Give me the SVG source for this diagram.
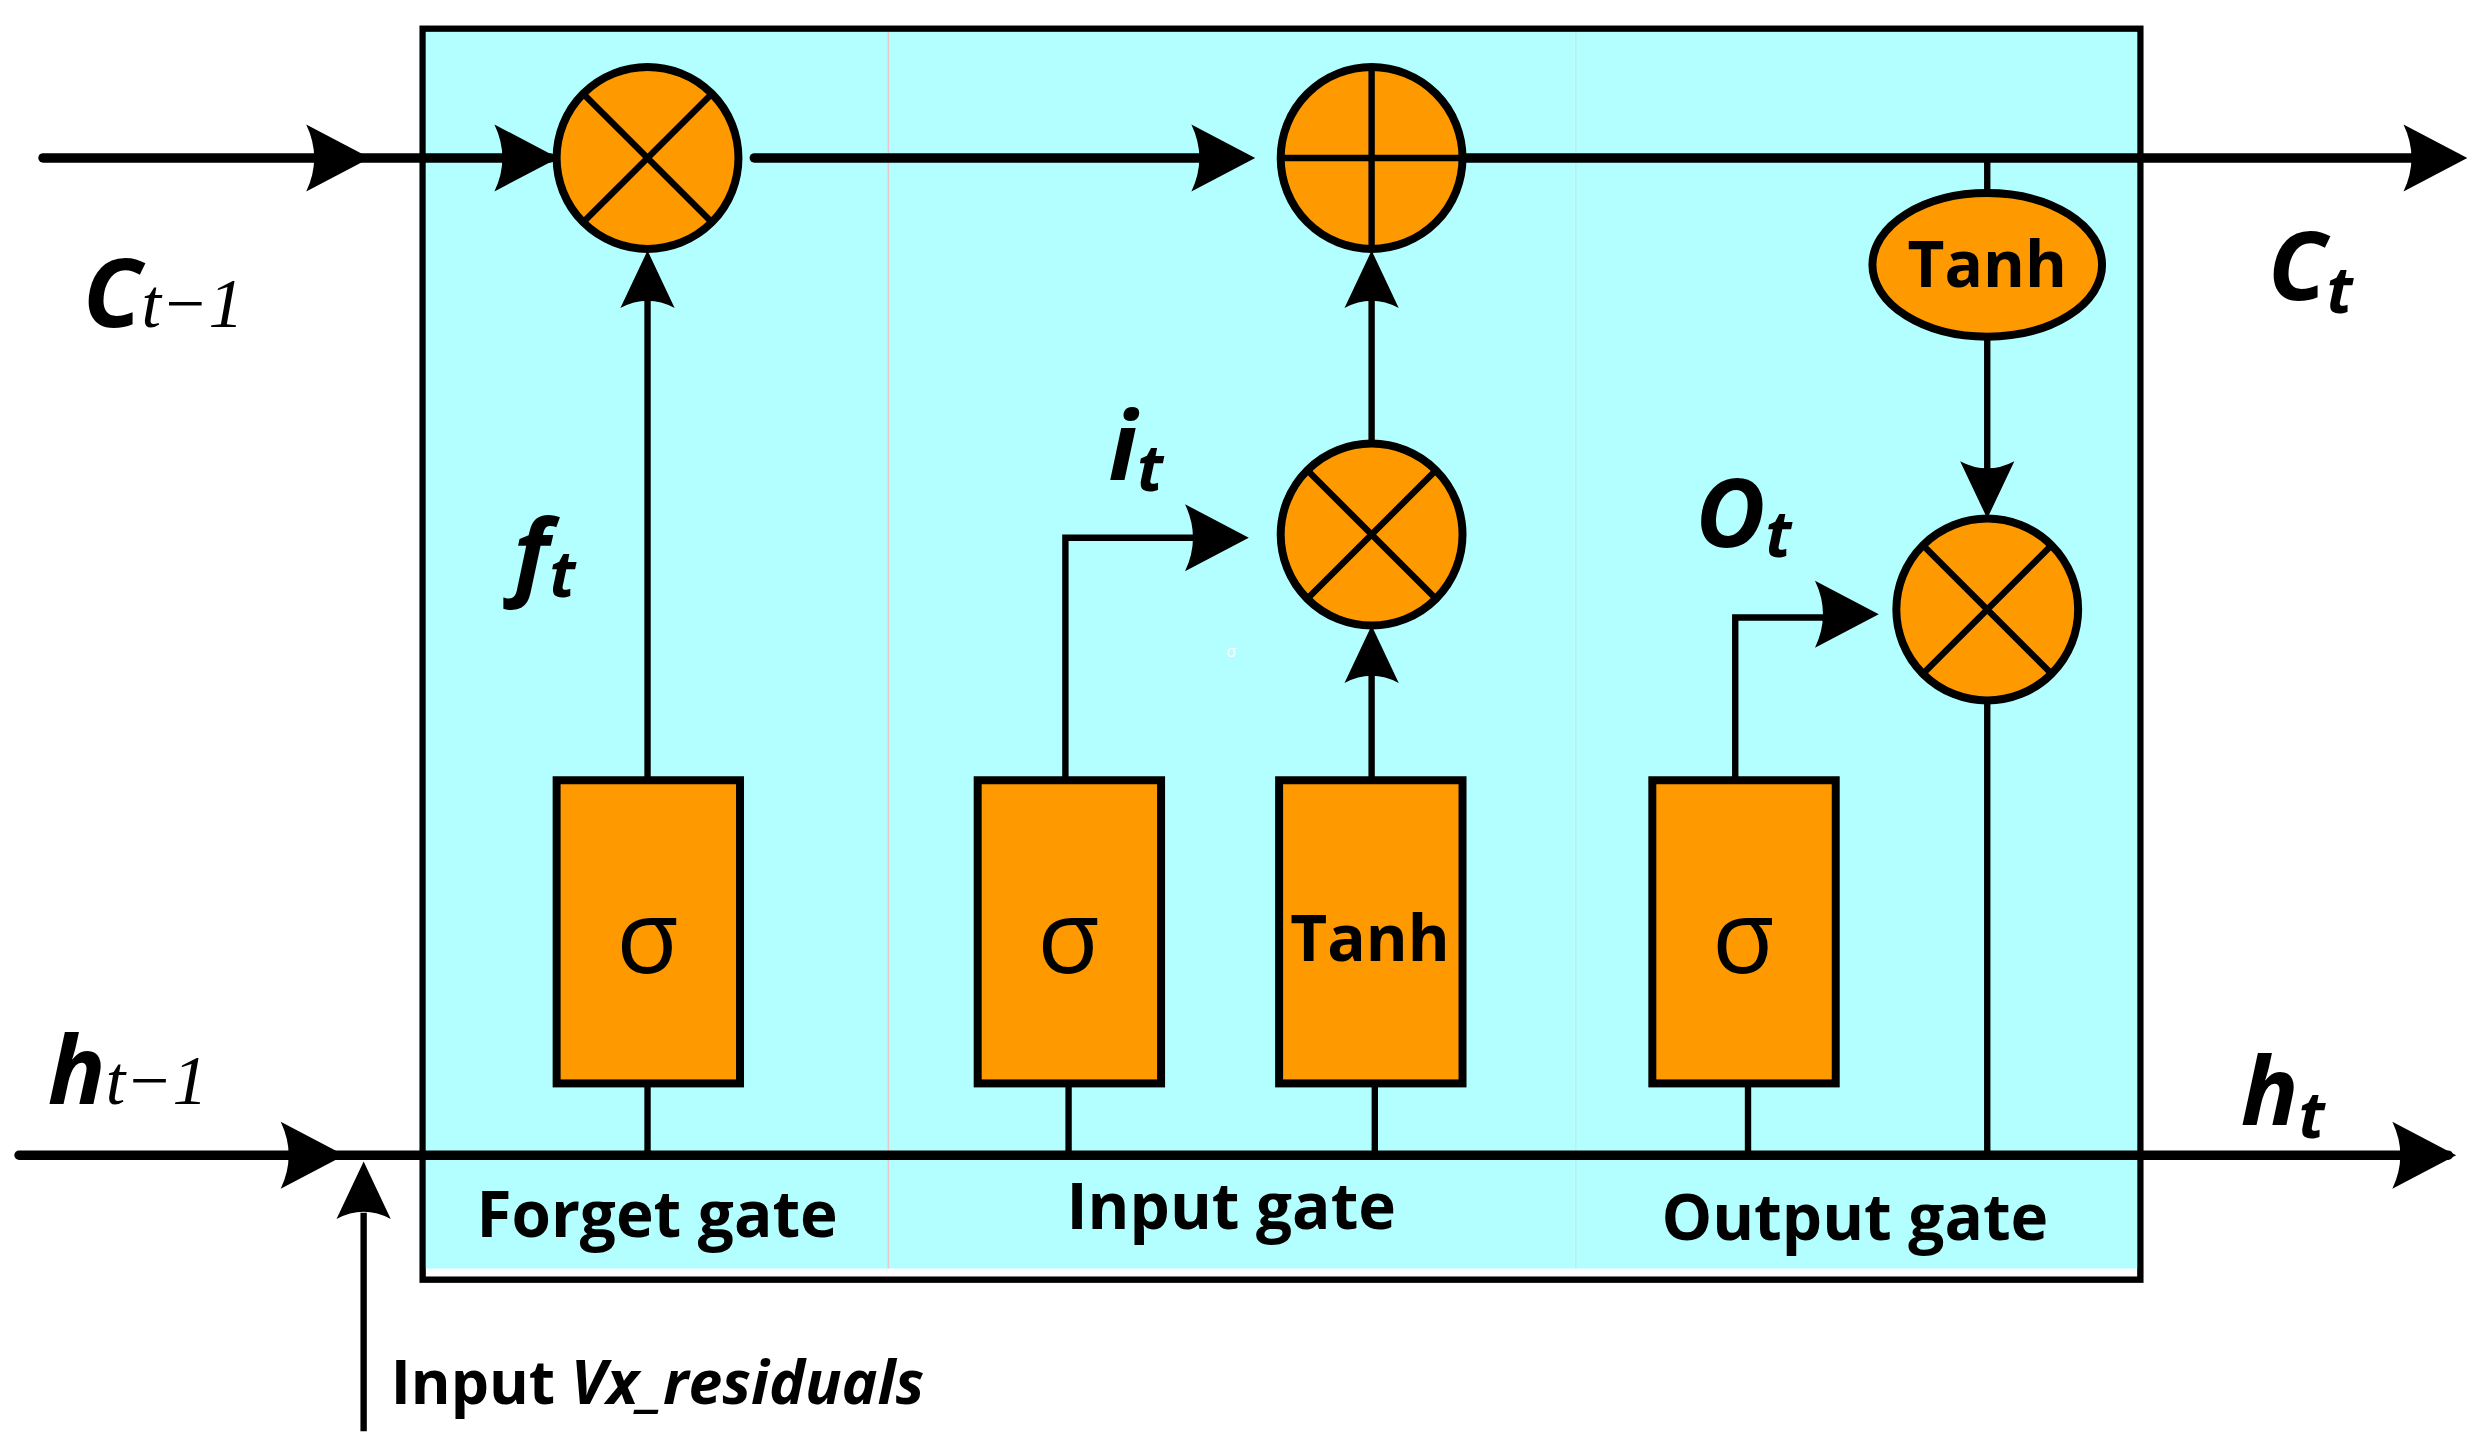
<svg xmlns="http://www.w3.org/2000/svg" width="2488" height="1444" viewBox="0 0 2488 1444">
<style>
.ln{stroke:#000;stroke-width:4;fill:none}
.thk{stroke:#000;stroke-width:6;fill:none;stroke-linecap:round}
.op{fill:#ff9900;stroke:#000;stroke-width:5}
.box{fill:#ff9900;stroke:#000;stroke-width:5}
.gl{font-family:"Open Sans","Noto Sans",sans-serif;font-weight:bold;font-size:40px;text-anchor:middle}
.sig{font-family:"Open Sans","Noto Sans",sans-serif;font-size:64px;text-anchor:middle}
.math{font-family:"Noto Sans","Open Sans",sans-serif;font-weight:bold;font-style:italic;font-size:60px}
.sub{font-family:"Liberation Serif",serif;font-style:italic;font-size:44px}
.subb{font-family:"Noto Sans",sans-serif;font-weight:bold;font-style:italic;font-size:40px}
</style>
<defs>
<path id="ah" d="M0,0 L-40,-21 Q-30,0 -40,21 Z" fill="#000"/>
<path id="as" d="M0,0 L-36,-17 Q-27,0 -36,17 Z" fill="#000"/>
</defs>
<rect width="2488" height="1444" fill="#fff"/>
<g transform="scale(1.5949,1.5956)">
<g id="cell">
<rect x="265" y="18" width="1077" height="784" fill="#fff" stroke="#000" stroke-width="4"/>
<rect x="267" y="20" width="1073" height="775" fill="#b3ffff"/>
<line x1="557" y1="20" x2="557" y2="795" stroke="#e8c8c8" stroke-width="1"/>
<line x1="988" y1="20" x2="988" y2="795" stroke="#c0ecec" stroke-width="1"/>
</g>
<g id="connectors">
<line class="thk" x1="27" y1="99" x2="345" y2="99"/>
<line class="thk" x1="473" y1="99" x2="780" y2="99"/>
<line class="thk" x1="917" y1="99" x2="1540" y2="99"/>
<line class="thk" x1="12" y1="724" x2="1535" y2="724"/>
<use href="#ah" transform="translate(232,99)"/>
<use href="#ah" transform="translate(350,99)"/>
<use href="#ah" transform="translate(787,99)"/>
<use href="#ah" transform="translate(1547,99)"/>
<use href="#ah" transform="translate(216,724)"/>
<use href="#ah" transform="translate(1540,724)"/>
<line class="ln" x1="406" y1="489" x2="406" y2="165"/>
<use href="#as" transform="translate(406,157) rotate(-90)"/>
<polyline class="ln" points="668,489 668,337 775,337"/>
<use href="#ah" transform="translate(783,337)"/>
<line class="ln" x1="860" y1="489" x2="860" y2="400"/>
<use href="#as" transform="translate(860,392) rotate(-90)"/>
<line class="ln" x1="860" y1="278" x2="860" y2="165"/>
<use href="#as" transform="translate(860,157) rotate(-90)"/>
<polyline class="ln" points="1088,489 1088,387 1170,387"/>
<use href="#ah" transform="translate(1178,385)"/>
<line class="ln" x1="1246" y1="99" x2="1246" y2="122"/>
<line class="ln" x1="1246" y1="210" x2="1246" y2="316"/>
<use href="#as" transform="translate(1246,325) rotate(90)"/>
<line class="ln" x1="1246" y1="439" x2="1246" y2="724"/>
<line class="ln" x1="406" y1="679" x2="406" y2="724"/>
<line class="ln" x1="670" y1="679" x2="670" y2="724"/>
<line class="ln" x1="862" y1="679" x2="862" y2="724"/>
<line class="ln" x1="1096" y1="679" x2="1096" y2="724"/>
<line class="ln" x1="228" y1="897" x2="228" y2="760"/>
<use href="#as" transform="translate(228,728) rotate(-90)"/>
</g>
<g id="forget-mult"><circle class="op" cx="406" cy="99" r="57"/><path class="ln" d="M366,59 L446,139 M446,59 L366,139"/></g>
<g id="plus"><circle class="op" cx="860" cy="99" r="57"/><path class="ln" d="M803,99 H917 M860,42 V156"/></g>
<g id="input-mult"><circle class="op" cx="860" cy="335" r="57"/><path class="ln" d="M820,295 L900,375 M900,295 L820,375"/></g>
<g id="output-mult"><circle class="op" cx="1246" cy="382" r="57"/><path class="ln" d="M1206,342 L1286,422 M1286,342 L1206,422"/></g>
<g id="tanh-out"><ellipse class="op" cx="1246" cy="166" rx="72" ry="45"/><text class="gl" x="1246" y="180">Tanh</text></g>
<g id="forget-sigma"><rect class="box" x="349" y="489" width="115" height="190"/><text class="sig" x="406" y="610">σ</text></g>
<g id="input-sigma"><rect class="box" x="613" y="489" width="115" height="190"/><text class="sig" x="670" y="610">σ</text></g>
<g id="input-tanh"><rect class="box" x="802" y="489" width="115" height="190"/><text class="gl" x="859" y="602">Tanh</text></g>
<g id="output-sigma"><rect class="box" x="1036" y="489" width="115" height="190"/><text class="sig" x="1093" y="610">σ</text></g>
<g id="labels">
<text x="52" y="205"><tspan class="math">C</tspan><tspan class="sub">t−1</tspan></text>
<text x="1422" y="188"><tspan class="math">C</tspan><tspan class="subb" dy="8">t</tspan></text>
<text x="30" y="692"><tspan class="math">h</tspan><tspan class="sub">t−1</tspan></text>
<text x="1405" y="705"><tspan class="math">h</tspan><tspan class="subb" dy="8">t</tspan></text>
<text x="322" y="368"><tspan class="math">f</tspan><tspan class="subb" dy="6">t</tspan></text>
<text x="695" y="300"><tspan class="math">i</tspan><tspan class="subb" dy="8">t</tspan></text>
<text x="1063" y="343"><tspan class="math">O</tspan><tspan class="subb" dy="6">t</tspan></text>
<text class="gl" x="412" y="775">Forget gate</text>
<text class="gl" x="772" y="770">Input gate</text>
<text class="gl" x="1163" y="777">Output gate</text>
<text x="245" y="880" style="font-family:'Open Sans','Noto Sans',sans-serif;font-weight:bold;font-size:38px">Input <tspan font-style="italic">Vx_residuals</tspan></text>
<text x="772" y="412" style="font-family:'Open Sans',sans-serif;font-size:10px;fill:#fff;text-anchor:middle">σ</text>
</g>
</g>
</svg>
